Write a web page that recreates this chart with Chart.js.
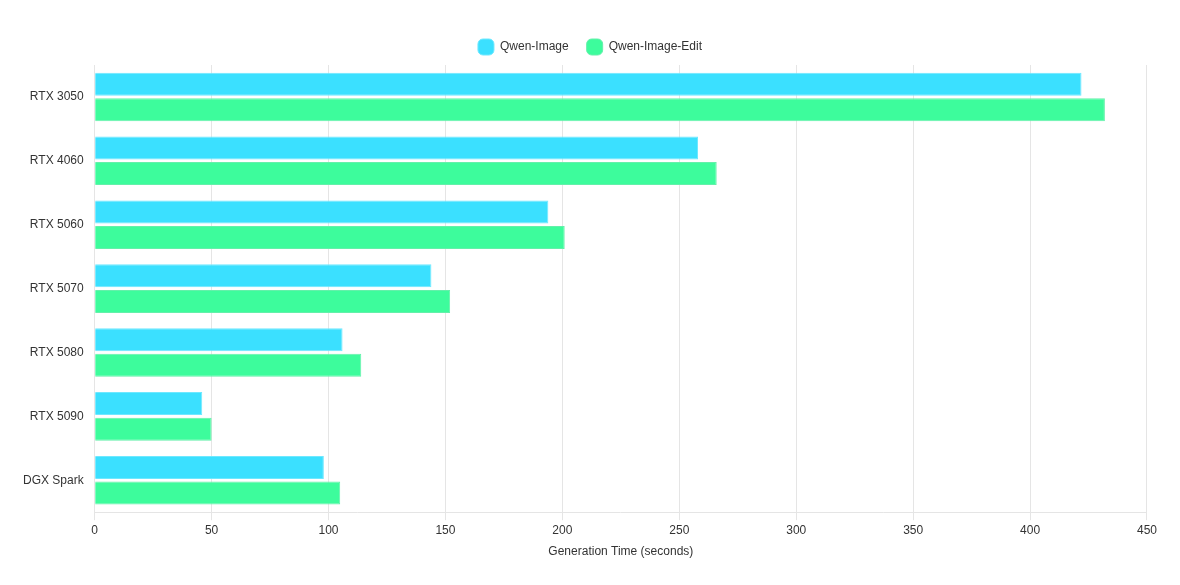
<!DOCTYPE html>
<html>
<head>
<meta charset="utf-8">
<script src="https://cdn.jsdelivr.net/npm/chart.js@4"></script>
<style>
  html, body { margin: 0; padding: 0; background: #fff; }
  #wrap { position: relative; width: 1180px; height: 585px; box-sizing: border-box; padding: 21px 20px 22px 20px; }
</style>
</head>
<body>
<div id="wrap"><canvas id="genChart"></canvas></div>
<script>
const gpus = ["RTX 3050", "RTX 4060", "RTX 5060", "RTX 5070", "RTX 5080", "RTX 5090", "DGX Spark"];
const qwenImage = [422, 258, 194, 144, 106, 46, 98];
const qwenImageEdit = [432, 266, 201, 152, 114, 50, 105];
const xTicks = [0, 50, 100, 150, 200, 250, 300, 350, 400, 450];

Chart.defaults.font.family = "'Liberation Sans', Arial, sans-serif";
Chart.defaults.font.size = 12;
Chart.defaults.color = '#333';

const ctx = document.getElementById('genChart').getContext('2d');
new Chart(ctx, {
    type: 'bar',
    data: {
        labels: gpus,
        datasets: [
            {
                label: 'Qwen-Image',
                data: qwenImage,
                backgroundColor: 'rgba(59, 224, 255, 1)',
                borderColor: 'rgba(110, 232, 255, 1)',
                borderWidth: 1
            },
            {
                label: 'Qwen-Image-Edit',
                data: qwenImageEdit,
                backgroundColor: 'rgba(61, 252, 156, 1)',
                borderColor: 'rgba(100, 240, 170, 1)',
                borderWidth: 1
            }
        ]
    },
    options: {
        indexAxis: 'y',
        responsive: true,
        maintainAspectRatio: false,
        animation: false,
        categoryPercentage: 0.8,
        barPercentage: 0.9,
        scales: {
            x: {
                min: 0,
                max: 450,
                afterBuildTicks: (axis) => { axis.ticks = xTicks.map(v => ({ value: v })); },
                grid: { color: '#e5e5e5' },
                border: { color: '#e5e5e5' },
                ticks: { color: '#333', font: { size: 12 } },
                title: { display: true, text: 'Generation Time (seconds)', color: '#333', font: { size: 12 } }
            },
            y: {
                grid: { display: false },
                border: { color: '#e5e5e5' },
                ticks: { color: '#333', font: { size: 12 } }
            }
        },
        plugins: {
            legend: {
                display: true,
                position: 'top',
                labels: {
                    boxWidth: 16,
                    boxHeight: 16,
                    padding: 18,
                    useBorderRadius: true,
                    borderRadius: 5,
                    color: '#333',
                    font: { size: 12 }
                }
            },
            tooltip: { enabled: false }
        }
    }
});
</script>
</body>
</html>
